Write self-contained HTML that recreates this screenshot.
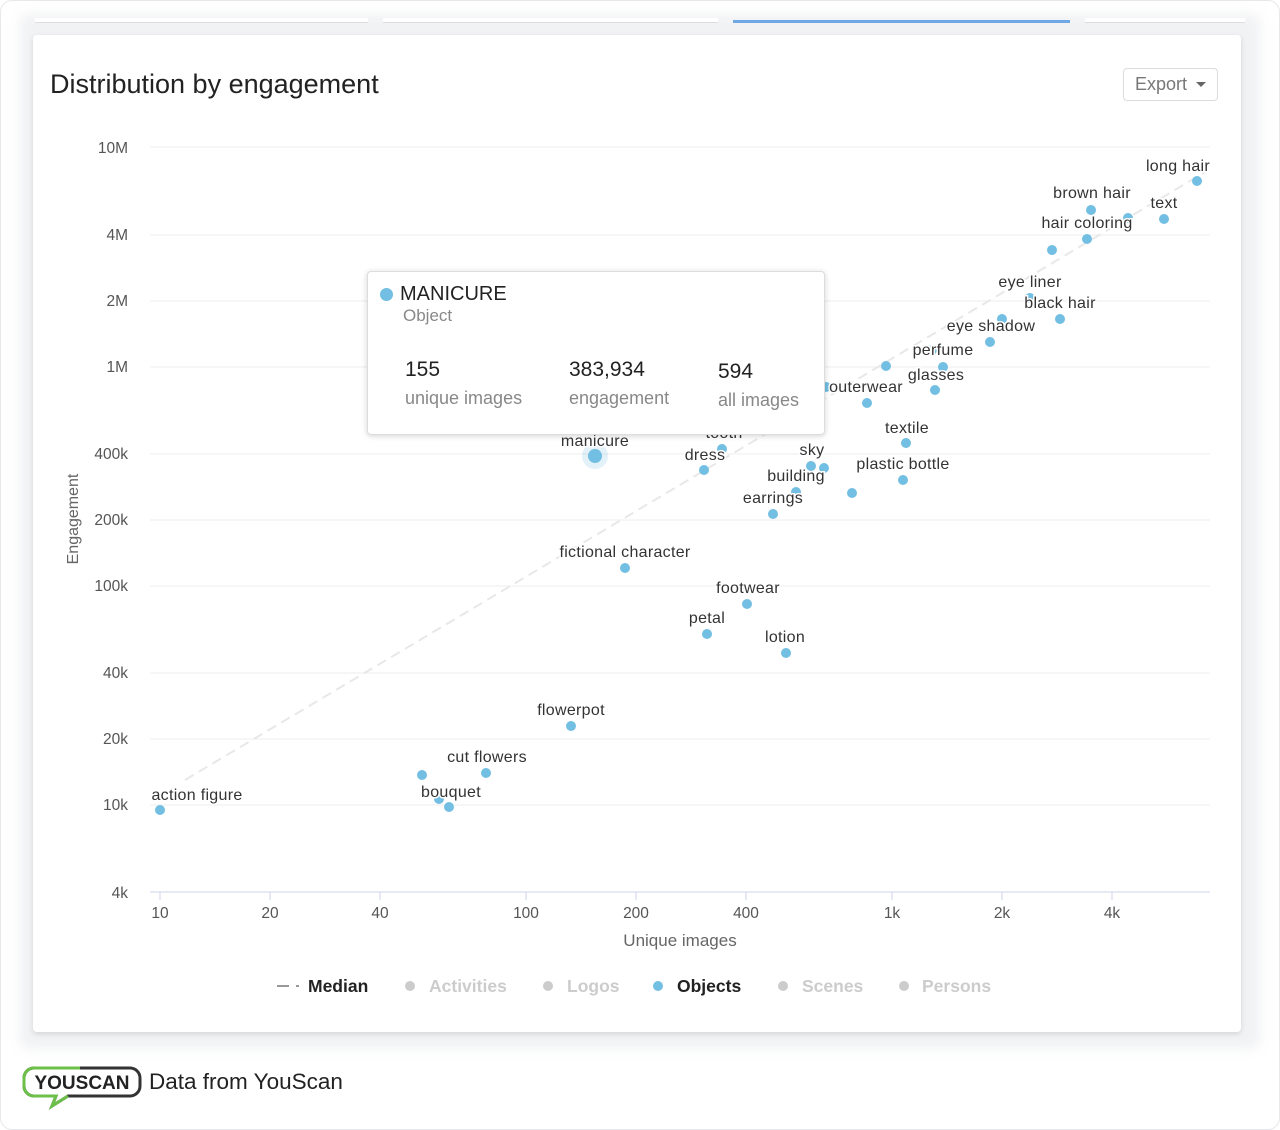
<!DOCTYPE html>
<html><head><meta charset="utf-8"><style>
html,body{margin:0;padding:0;background:#fff;}
body{width:1280px;height:1130px;position:relative;overflow:hidden;font-family:"Liberation Sans",sans-serif;}
.outer{position:absolute;left:0;top:0;width:1278px;height:1128px;border:1px solid #e6e8eb;border-radius:12px;background:#fff;}
.bg{position:absolute;left:20px;top:14px;width:1240px;height:1035px;background:#f1f2f4;border-radius:8px;filter:blur(6px);}
.tab{position:absolute;top:18px;height:4px;background:#fff;border-bottom:1px solid #ddd;}
.card{position:absolute;left:33px;top:35px;width:1208px;height:997px;background:#fff;border-radius:4px;box-shadow:0 2px 6px rgba(0,0,0,.12);}
.title{position:absolute;left:50px;top:69px;font-size:27px;color:#222;font-weight:500;}
.export{position:absolute;left:1123px;top:68px;width:93px;height:31px;border:1px solid #dcdcdc;border-radius:4px;font-size:18px;color:#777;line-height:31px;text-indent:11px;}
.export:after{content:"";position:absolute;right:11px;top:13px;border:5px solid transparent;border-top:5px solid #666;}
.tip{position:absolute;left:367px;top:271px;width:456px;height:162px;background:#fff;border:1px solid #ddd;border-radius:4px;box-shadow:0 1px 6px rgba(0,0,0,.18);}
.tip div{position:absolute;white-space:nowrap;}
</style></head><body>
<div class="outer"></div>
<div class="bg"></div>
<div class="tab" style="left:35px;width:333px"></div>
<div class="tab" style="left:383px;width:335px"></div>
<div class="tab" style="left:733px;width:337px;background:#6ea8e6;border:none;height:3px;top:20px"></div>
<div class="tab" style="left:1085px;width:160px"></div>
<div class="card"></div>
<div class="title">Distribution by engagement</div>
<div class="export">Export</div>
<svg width="1280" height="1130" style="position:absolute;left:0;top:0" font-family="Liberation Sans, sans-serif">
<g stroke="#ececec" stroke-width="1">
<line x1="150" x2="1210" y1="147" y2="147"/><line x1="150" x2="1210" y1="235" y2="235"/><line x1="150" x2="1210" y1="301" y2="301"/><line x1="150" x2="1210" y1="367" y2="367"/><line x1="150" x2="1210" y1="454" y2="454"/><line x1="150" x2="1210" y1="520" y2="520"/><line x1="150" x2="1210" y1="586" y2="586"/><line x1="150" x2="1210" y1="673" y2="673"/><line x1="150" x2="1210" y1="739" y2="739"/><line x1="150" x2="1210" y1="805" y2="805"/>
</g>
<line x1="150" x2="1210" y1="892" y2="892" stroke="#ccd6eb"/>
<g stroke="#ccd6eb"><line x1="160" x2="160" y1="892" y2="900"/><line x1="270" x2="270" y1="892" y2="900"/><line x1="380" x2="380" y1="892" y2="900"/><line x1="526" x2="526" y1="892" y2="900"/><line x1="636" x2="636" y1="892" y2="900"/><line x1="746" x2="746" y1="892" y2="900"/><line x1="892" x2="892" y1="892" y2="900"/><line x1="1002" x2="1002" y1="892" y2="900"/><line x1="1112" x2="1112" y1="892" y2="900"/></g>
<g font-size="15.5" fill="#555" text-anchor="end">
<text x="128" y="153">10M</text><text x="128" y="240">4M</text><text x="128" y="306">2M</text><text x="128" y="372">1M</text><text x="128" y="459">400k</text><text x="128" y="525">200k</text><text x="128" y="591">100k</text><text x="128" y="678">40k</text><text x="128" y="744">20k</text><text x="128" y="810">10k</text><text x="128" y="898">4k</text>
</g>
<g font-size="15.5" fill="#555" text-anchor="middle">
<text x="160" y="918">10</text><text x="270" y="918">20</text><text x="380" y="918">40</text><text x="526" y="918">100</text><text x="636" y="918">200</text><text x="746" y="918">400</text><text x="892" y="918">1k</text><text x="1002" y="918">2k</text><text x="1112" y="918">4k</text>
<text x="680" y="946" font-size="17" fill="#666">Unique images</text>
</g>
<text transform="translate(78,519) rotate(-90)" font-size="16" fill="#666" text-anchor="middle">Engagement</text>
<line x1="185" y1="780" x2="1205" y2="172" stroke="#e8e8e8" stroke-width="2" stroke-dasharray="10,6"/>
<g fill="#72bfe3">
<circle cx="160" cy="810" r="5"/><circle cx="422" cy="775" r="5"/><circle cx="486" cy="773" r="5"/><circle cx="439" cy="799" r="5"/><circle cx="449" cy="807" r="5"/><circle cx="571" cy="726" r="5"/><circle cx="625" cy="568" r="5"/><circle cx="747" cy="604" r="5"/><circle cx="707" cy="634" r="5"/><circle cx="786" cy="653" r="5"/><circle cx="722" cy="449" r="5"/><circle cx="704" cy="470" r="5"/><circle cx="811" cy="466" r="5"/><circle cx="824" cy="468" r="5"/><circle cx="796" cy="492" r="5"/><circle cx="773" cy="514" r="5"/><circle cx="852" cy="493" r="5"/><circle cx="906" cy="443" r="5"/><circle cx="903" cy="480" r="5"/><circle cx="826" cy="387" r="5"/><circle cx="867" cy="403" r="5"/><circle cx="935" cy="390" r="5"/><circle cx="932" cy="350" r="5"/><circle cx="943" cy="367" r="5"/><circle cx="886" cy="366" r="5"/><circle cx="990" cy="342" r="5"/><circle cx="1030" cy="298" r="5"/><circle cx="1060" cy="319" r="5"/><circle cx="1002" cy="319" r="5"/><circle cx="1087" cy="239" r="5"/><circle cx="1052" cy="250" r="5"/><circle cx="1091" cy="210" r="5"/><circle cx="1128" cy="218" r="5"/><circle cx="1164" cy="219" r="5"/><circle cx="1197" cy="181" r="5"/>
<circle cx="595" cy="456" r="13" fill="#72bfe3" opacity=".2"/><circle cx="595" cy="456" r="7"/>
</g>
<g font-size="16" letter-spacing="0.3" fill="#333" text-anchor="middle" stroke="#fff" stroke-width="3" paint-order="stroke">
<text x="197" y="800">action figure</text><text x="487" y="762">cut flowers</text><text x="451" y="797">bouquet</text><text x="571" y="715">flowerpot</text><text x="625" y="557">fictional character</text><text x="748" y="593">footwear</text><text x="707" y="623">petal</text><text x="785" y="642">lotion</text><text x="595" y="446">manicure</text><text x="724" y="438">tooth</text><text x="705" y="460">dress</text><text x="812" y="455">sky</text><text x="796" y="481">building</text><text x="773" y="503">earrings</text><text x="907" y="433">textile</text><text x="903" y="469">plastic bottle</text><text x="866" y="392">outerwear</text><text x="936" y="380">glasses</text><text x="943" y="355">perfume</text><text x="991" y="331">eye shadow</text><text x="1030" y="287">eye liner</text><text x="1060" y="308">black hair</text><text x="1087" y="228">hair coloring</text><text x="1092" y="198">brown hair</text><text x="1164" y="208">text</text><text x="1178" y="171">long hair</text>
</g>
<g font-size="17.5" font-weight="bold">
<line x1="277" x2="289" y1="986" y2="986" stroke="#999" stroke-width="2"/><line x1="296" x2="299" y1="986" y2="986" stroke="#999" stroke-width="2"/>
<text x="308" y="992" fill="#222">Median</text>
<circle cx="410" cy="986" r="5" fill="#ccc"/><text x="429" y="992" fill="#ccc">Activities</text>
<circle cx="548" cy="986" r="5" fill="#ccc"/><text x="567" y="992" fill="#ccc">Logos</text>
<circle cx="658" cy="986" r="5" fill="#72bfe3"/><text x="677" y="992" fill="#222">Objects</text>
<circle cx="783" cy="986" r="5" fill="#ccc"/><text x="802" y="992" fill="#ccc">Scenes</text>
<circle cx="904" cy="986" r="5" fill="#ccc"/><text x="922" y="992" fill="#ccc">Persons</text>
</g>
<path d="M34 1068 H130 a10 10 0 0 1 10 10 v8 a10 10 0 0 1 -10 10 H68 L52 1106 L56 1096 H34 a10 10 0 0 1 -10 -10 v-8 a10 10 0 0 1 10 -10z" fill="none" stroke="#333" stroke-width="3"/>
<path d="M80 1068 H34 a10 10 0 0 0 -10 10 v8 a10 10 0 0 0 10 10 H56 L52 1106 L68 1096" fill="none" stroke="#6cc04a" stroke-width="3"/>
<text x="82" y="1089" font-size="19" font-weight="bold" fill="#222" text-anchor="middle">YOUSCAN</text>
<text x="149" y="1089" font-size="22.5" fill="#222">Data from YouScan</text>
</svg>
<div class="tip">
<div style="left:12px;top:16px;width:13px;height:13px;border-radius:50%;background:#72bfe3"></div>
<div style="left:32px;top:11px;font-size:20px;color:#222">MANICURE</div>
<div style="left:35px;top:34px;font-size:17px;color:#888">Object</div>
<div style="left:37px;top:86px;font-size:21px;color:#222">155</div>
<div style="left:37px;top:116px;font-size:18px;color:#888">unique images</div>
<div style="left:201px;top:86px;font-size:21px;color:#222">383,934</div>
<div style="left:201px;top:116px;font-size:18px;color:#888">engagement</div>
<div style="left:350px;top:88px;font-size:21px;color:#222">594</div>
<div style="left:350px;top:118px;font-size:18px;color:#888">all images</div>
</div>
</body></html>
